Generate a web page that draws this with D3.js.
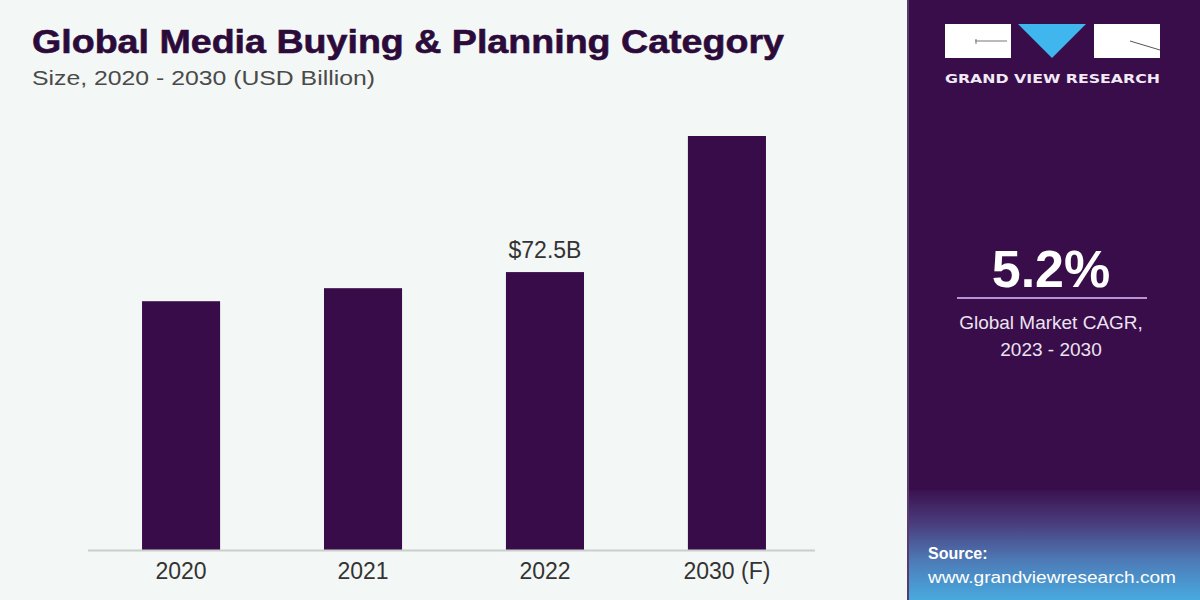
<!DOCTYPE html>
<html>
<head>
<meta charset="utf-8">
<script src="https://cdn.jsdelivr.net/npm/d3@7"></script>
<style>
  html, body { margin: 0; padding: 0; background: #f3f7f5; }
  svg { display: block; }
</style>
</head>
<body>
<svg id="chart" width="1200" height="600"></svg>
<script>
const categories = ["2020", "2021", "2022", "2030 (F)"];
const values = [64.9, 68.3, 72.5, 108.0];
const labelledCategory = "2022";
const labelText = "$72.5B";
const titleText = "Global Media Buying & Planning Category";
const subtitleText = "Size, 2020 - 2030 (USD Billion)";
const cagrValue = "5.2%";
const cagrLines = ["Global Market CAGR,", "2023 - 2030"];
const brandName = "GRAND VIEW RESEARCH";
const sourceLines = ["Source:", "www.grandviewresearch.com"];

const svg = d3.select("#chart");
const data = categories.map((c, i) => ({ cat: c, val: values[i] }));

// background
svg.append("rect").attr("x", 0).attr("y", 0).attr("width", 1200).attr("height", 600).attr("fill", "#f3f7f5");

// title & subtitle
svg.append("text").attr("x", 32).attr("y", 53)
  .attr("font-family", "Liberation Sans, Arial, sans-serif").attr("font-weight", 900)
  .attr("font-size", 34).attr("fill", "#2c0b3b")
  .attr("stroke", "#2c0b3b").attr("stroke-width", 0.6)
  .attr("textLength", 752).attr("lengthAdjust", "spacingAndGlyphs")
  .text(titleText);
svg.append("text").attr("x", 32).attr("y", 85)
  .attr("font-family", "Liberation Sans, Arial, sans-serif")
  .attr("font-size", 21).attr("fill", "#4a4a4a")
  .attr("textLength", 343).attr("lengthAdjust", "spacingAndGlyphs")
  .text(subtitleText);

// scales
const x = d3.scaleBand().domain(categories).range([90, 818]).paddingInner(0.571).paddingOuter(0.286);
const y = d3.scaleLinear().domain([0, 120]).range([550, 90]);

// bars
svg.append("g").selectAll("rect").data(data).join("rect")
  .attr("x", d => x(d.cat))
  .attr("y", d => y(d.val))
  .attr("width", x.bandwidth())
  .attr("height", d => y(0) - y(d.val))
  .attr("fill", "#380c48");

// axis
const xAxis = d3.axisBottom(x).tickSize(0).tickPadding(13);
const gx = svg.append("g").attr("transform", `translate(0,${y(0)})`).call(xAxis);
gx.select(".domain").attr("stroke", "#c9cfcc").attr("stroke-width", 2).attr("d", "M88,0.5H815");
gx.selectAll("text")
  .attr("font-family", "Liberation Sans, Arial, sans-serif")
  .attr("font-size", 23).attr("fill", "#333").attr("dy", "0.71em");

// value label
const ld = data.find(d => d.cat === labelledCategory);
svg.append("text")
  .attr("x", x(ld.cat) + x.bandwidth() / 2)
  .attr("y", y(ld.val) - 14)
  .attr("text-anchor", "middle")
  .attr("font-family", "Liberation Sans, Arial, sans-serif")
  .attr("font-size", 23).attr("fill", "#333")
  .text(labelText);

// right panel
const defs = svg.append("defs");
const grad = defs.append("linearGradient").attr("id", "srcGrad").attr("x1", 0).attr("y1", 0).attr("x2", 0).attr("y2", 1);
grad.append("stop").attr("offset", "0%").attr("stop-color", "#3b1250");
grad.append("stop").attr("offset", "30%").attr("stop-color", "#4a3c7c");
grad.append("stop").attr("offset", "65%").attr("stop-color", "#4d7cb8");
grad.append("stop").attr("offset", "100%").attr("stop-color", "#48aadf");

svg.append("rect").attr("x", 907).attr("y", 0).attr("width", 293).attr("height", 600).attr("fill", "#390d49");
svg.append("rect").attr("x", 907).attr("y", 490).attr("width", 293).attr("height", 110).attr("fill", "url(#srcGrad)");
svg.append("line").attr("x1", 908).attr("x2", 908).attr("y1", 0).attr("y2", 600).attr("stroke", "#5a3a6c").attr("stroke-width", 2);

// logo
svg.append("rect").attr("x", 945).attr("y", 24).attr("width", 66).attr("height", 34).attr("fill", "#ffffff");
svg.append("rect").attr("x", 1094).attr("y", 24).attr("width", 66).attr("height", 34).attr("fill", "#ffffff");
svg.append("path").attr("d", "M1018,24 L1086,24 L1052,58 Z").attr("fill", "#3fb6ee");
svg.append("line").attr("x1", 975).attr("x2", 1007).attr("y1", 41).attr("y2", 41).attr("stroke", "#777").attr("stroke-width", 1);
svg.append("line").attr("x1", 976).attr("x2", 976).attr("y1", 39).attr("y2", 44).attr("stroke", "#777").attr("stroke-width", 1);
svg.append("line").attr("x1", 1130).attr("x2", 1160).attr("y1", 41).attr("y2", 50).attr("stroke", "#555").attr("stroke-width", 1);
svg.append("text").attr("x", 945).attr("y", 83)
  .attr("font-family", "DejaVu Sans, sans-serif").attr("font-weight", "bold")
  .attr("font-size", 13).attr("fill", "#f1e9f5")
  .attr("textLength", 215).attr("lengthAdjust", "spacingAndGlyphs")
  .text(brandName);

// CAGR
svg.append("text").attr("x", 1051).attr("y", 287).attr("text-anchor", "middle")
  .attr("font-family", "Liberation Sans, Arial, sans-serif").attr("font-weight", "bold")
  .attr("font-size", 52).attr("fill", "#ffffff").text(cagrValue);
svg.append("line").attr("x1", 957).attr("x2", 1147).attr("y1", 298).attr("y2", 298)
  .attr("stroke", "#b892d6").attr("stroke-width", 2);
cagrLines.forEach((t, i) => {
  svg.append("text").attr("x", 1051).attr("y", 329 + i * 27).attr("text-anchor", "middle")
    .attr("font-family", "Liberation Sans, Arial, sans-serif")
    .attr("font-size", 19).attr("fill", "#ece3f2").text(t);
});

// source
svg.append("text").attr("x", 928).attr("y", 559)
  .attr("font-family", "Liberation Sans, Arial, sans-serif").attr("font-weight", "bold")
  .attr("font-size", 16).attr("fill", "#ffffff").text(sourceLines[0]);
svg.append("text").attr("x", 928).attr("y", 583)
  .attr("font-family", "Liberation Sans, Arial, sans-serif")
  .attr("font-size", 16).attr("fill", "#ffffff")
  .attr("textLength", 248).attr("lengthAdjust", "spacingAndGlyphs")
  .text(sourceLines[1]);
</script>
</body>
</html>
